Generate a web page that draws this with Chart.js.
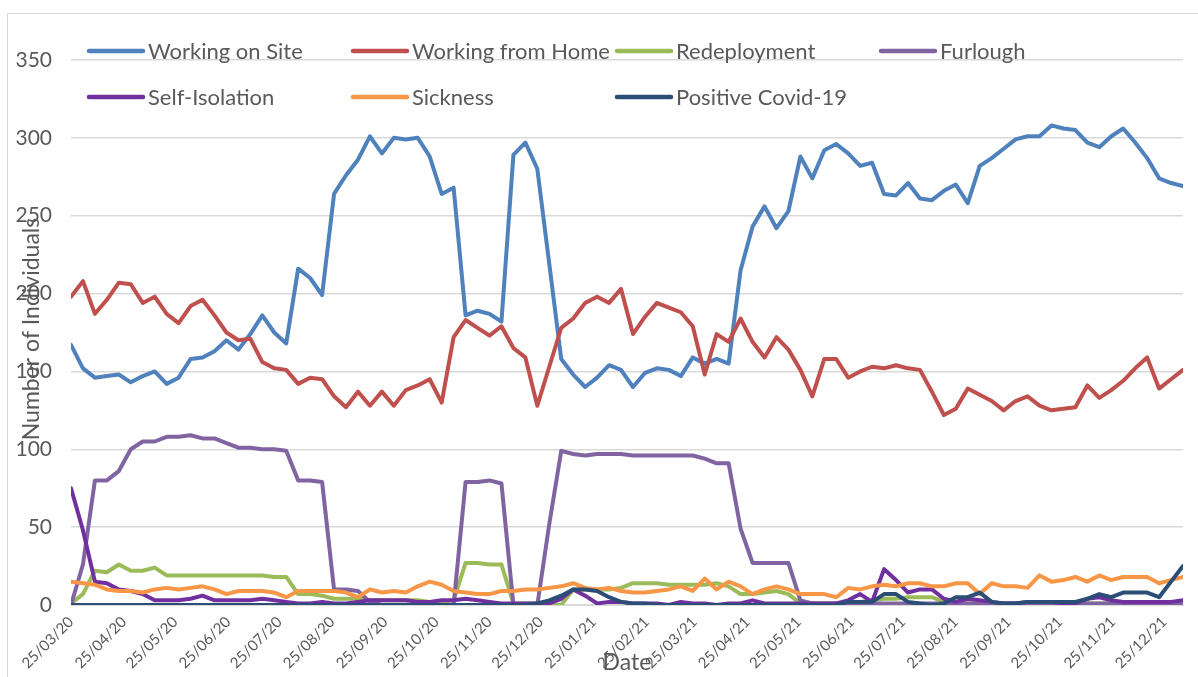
<!DOCTYPE html>
<html>
<head>
<meta charset="utf-8">
<script src="https://cdn.jsdelivr.net/npm/chart.js@4.4.1/dist/chart.umd.min.js"></script>
<style>
  html, body { margin: 0; padding: 0; background: #fff; overflow: hidden; }
  .frame { position: absolute; left: 7px; top: 13px; width: 1400px; height: 900px; border-left: 1px solid #d9d9d9; border-top: 1px solid #d9d9d9; }
  .wrap { position: absolute; left: 0; top: 0; width: 1198px; height: 677px; }
</style>
</head>
<body>
<div class="frame"></div>
<div class="wrap"><canvas id="staffChart" width="1198" height="677"></canvas></div>
<script>
// weekly figures, first week starting 25/03/20
const startDate = Date.UTC(2020, 2, 25);
const tickLabels = ["25/03/20", "25/04/20", "25/05/20", "25/06/20", "25/07/20", "25/08/20", "25/09/20", "25/10/20",
  "25/11/20", "25/12/20", "25/01/21", "25/02/21", "25/03/21", "25/04/21", "25/05/21", "25/06/21", "25/07/21",
  "25/08/21", "25/09/21", "25/10/21", "25/11/21", "25/12/21"];
const yTicks = [0, 50, 100, 150, 200, 250, 300, 350];

const seriesNames = ["Working on Site", "Working from Home", "Redeployment", "Furlough",
  "Self-Isolation", "Sickness", "Positive Covid-19"];
const seriesColors = ["#4F81BD", "#C0504D", "#9BBB59", "#8064A2", "#7030A0", "#F79646", "#2C4D75"];

const onSite = [167, 152, 146, 147, 148, 143, 147, 150, 142, 146, 158, 159, 163, 170, 164, 174, 186, 175, 168, 216,
  210, 199, 264, 276, 286, 301, 290, 300, 299, 300, 288, 264, 268, 186, 189, 187, 182, 289, 297, 280,
  219, 158, 148, 140, 146, 154, 151, 140, 149, 152, 151, 147, 159, 155, 158, 155, 215, 243, 256, 242,
  253, 288, 274, 292, 296, 290, 282, 284, 264, 263, 271, 261, 260, 266, 270, 258, 282, 287, 293, 299,
  301, 301, 308, 306, 305, 297, 294, 301, 306, 297, 287, 274, 271, 269];
const fromHome = [198, 208, 187, 196, 207, 206, 194, 198, 187, 181, 192, 196, 186, 175, 170, 171, 156, 152, 151, 142,
  146, 145, 134, 127, 137, 128, 137, 128, 138, 141, 145, 130, 172, 183, 178, 173, 179, 165, 159, 128,
  153, 178, 184, 194, 198, 194, 203, 174, 185, 194, 191, 188, 179, 148, 174, 169, 184, 169, 159, 172,
  164, 151, 134, 158, 158, 146, 150, 153, 152, 154, 152, 151, 137, 122, 126, 139, 135, 131, 125, 131,
  134, 128, 125, 126, 127, 141, 133, 138, 144, 152, 159, 139, 145, 151];
const redeployment = [1, 7, 22, 21, 26, 22, 22, 24, 19, 19, 19, 19, 19, 19, 19, 19, 19, 18, 18, 7,
  7, 6, 4, 4, 4, 3, 3, 3, 3, 3, 2, 2, 3, 27, 27, 26, 26, 1, 1, 1,
  0, 0, 10, 10, 10, 10, 11, 14, 14, 14, 13, 13, 13, 13, 14, 12, 7, 7, 8, 9,
  7, 1, 1, 1, 1, 1, 2, 3, 4, 4, 5, 5, 5, 2, 1, 1, 1, 1, 1, 1,
  1, 1, 1, 1, 1, 1, 1, 1, 1, 1, 1, 1, 1, 1];
const furlough = [0, 26, 80, 80, 86, 100, 105, 105, 108, 108, 109, 107, 107, 104, 101, 101, 100, 100, 99, 80,
  80, 79, 10, 10, 9, 2, 0, 0, 0, 0, 0, 0, 0, 79, 79, 80, 78, 0, 0, 0,
  52, 99, 97, 96, 97, 97, 97, 96, 96, 96, 96, 96, 96, 94, 91, 91, 49, 27, 27, 27,
  27, 3, 1, 1, 1, 1, 1, 1, 1, 1, 1, 1, 1, 1, 1, 1, 1, 1, 1, 1,
  1, 1, 1, 1, 1, 1, 1, 1, 1, 1, 1, 1, 1, 1];
const selfIsolation = [75, 48, 15, 14, 10, 9, 7, 3, 3, 3, 4, 6, 3, 3, 3, 3, 4, 3, 2, 1,
  1, 2, 1, 1, 2, 3, 3, 3, 3, 2, 2, 3, 3, 4, 3, 2, 1, 1, 1, 1,
  1, 4, 10, 6, 1, 2, 2, 1, 1, 1, 0, 2, 1, 1, 0, 1, 1, 3, 1, 1,
  1, 1, 1, 1, 1, 3, 7, 2, 23, 16, 8, 10, 10, 4, 2, 4, 3, 2, 1, 1,
  2, 2, 2, 1, 1, 4, 5, 3, 2, 2, 2, 2, 2, 3];
const sickness = [15, 14, 13, 10, 9, 9, 8, 10, 11, 10, 11, 12, 10, 7, 9, 9, 9, 8, 5, 9,
  9, 9, 9, 8, 5, 10, 8, 9, 8, 12, 15, 13, 9, 8, 7, 7, 9, 9, 10, 10,
  11, 12, 14, 11, 10, 11, 9, 8, 8, 9, 10, 12, 9, 17, 10, 15, 12, 7, 10, 12,
  10, 7, 7, 7, 5, 11, 10, 12, 13, 12, 14, 14, 12, 12, 14, 14, 7, 14, 12, 12,
  11, 19, 15, 16, 18, 15, 19, 16, 18, 18, 18, 14, 16, 18];
const positiveCovid = [0, 0, 0, 0, 0, 0, 0, 0, 0, 0, 0, 0, 0, 0, 0, 0, 0, 0, 0, 0,
  0, 0, 0, 0, 0, 0, 0, 0, 0, 0, 0, 0, 0, 0, 0, 0, 0, 0, 0, 1,
  3, 6, 10, 10, 9, 5, 2, 1, 1, 0, 0, 0, 0, 0, 0, 0, 0, 0, 0, 0,
  0, 0, 0, 0, 0, 2, 2, 2, 7, 7, 2, 1, 0, 1, 5, 5, 8, 2, 1, 1,
  2, 2, 2, 2, 2, 4, 7, 5, 8, 8, 8, 5, 15, 25];

const allSeries = [onSite, fromHome, redeployment, furlough, selfIsolation, sickness, positiveCovid];

const dayMs = 86400000;
const tickDays = tickLabels.map((t) => {
  const [d, m, y] = t.split("/").map(Number);
  return (Date.UTC(2000 + y, m - 1, d) - startDate) / dayMs;
});
const lastDay = (onSite.length - 1) * 7;

// legend laid out in a 4 column grid + axis titles sitting over the tick labels
const legendGrid = {
  id: "legendGrid",
  afterDraw: (chart) => {
    const ctx = chart.ctx;
    ctx.save();
    chart.data.datasets.forEach((ds, i) => {
      const x = 89 + (i % 4) * 264;
      const y = 51 + Math.floor(i / 4) * 46;
      ctx.beginPath();
      ctx.lineCap = "round";
      ctx.lineWidth = 4.5;
      ctx.strokeStyle = ds.borderColor;
      ctx.moveTo(x, y);
      ctx.lineTo(x + 54, y);
      ctx.stroke();
      ctx.fillStyle = "#595959";
      ctx.font = "22px Lato";
      ctx.textBaseline = "alphabetic";
      ctx.textAlign = "left";
      ctx.fillText(ds.label, x + 59, y + 8);
    });

    ctx.font = "23px Lato";
    ctx.fillStyle = "#595959";
    ctx.textAlign = "center";
    ctx.textBaseline = "middle";
    ctx.fillText("Date", 627, 663);

    ctx.translate(32, 329);
    ctx.rotate(-Math.PI / 2);
    ctx.fillText("Number of Individuals", 0, 0);
    ctx.restore();
  },
};

const ctx = document.getElementById("staffChart").getContext("2d");
new Chart(ctx, {
  type: "line",
  data: {
    datasets: seriesNames.map((name, i) => ({
      label: name,
      data: allSeries[i].map((v, w) => ({ x: w * 7, y: v })),
      borderColor: seriesColors[i],
      backgroundColor: seriesColors[i],
      order: seriesNames.length - i, // later series drawn on top, like Excel
    })),
  },
  plugins: [legendGrid],
  options: {
    responsive: false,
    animation: false,
    devicePixelRatio: 1,
    layout: { padding: { left: 0, right: 15, top: 60, bottom: 0 } },
    elements: {
      point: { radius: 0 },
      line: { borderWidth: 4, borderJoinStyle: "round", borderCapStyle: "round", tension: 0 },
    },
    plugins: {
      legend: { display: false },
      tooltip: { enabled: false },
    },
    scales: {
      x: {
        type: "linear",
        min: 0,
        max: lastDay,
        afterBuildTicks: (scale) => {
          scale.ticks = tickDays.map((v) => ({ value: v }));
        },
        afterFit: (scale) => {
          scale.height = 72;
        },
        grid: { display: false, drawTicks: false },
        border: { color: "#d9d9d9", width: 1 },
        ticks: {
          autoSkip: false,
          minRotation: 45,
          maxRotation: 45,
          padding: 8,
          color: "#595959",
          font: { family: "Lato", size: 15 },
          callback: (value, index) => tickLabels[index],
        },
      },
      y: {
        min: 0,
        max: 350,
        afterBuildTicks: (scale) => {
          scale.ticks = yTicks.map((v) => ({ value: v }));
        },
        afterFit: (scale) => {
          scale.width = 71;
        },
        grid: { color: "#d9d9d9", lineWidth: 1.5, drawTicks: false },
        border: { display: false },
        ticks: {
          padding: 19,
          color: "#595959",
          font: { family: "Lato", size: 21 },
        },
      },
    },
  },
});
</script>
</body>
</html>
